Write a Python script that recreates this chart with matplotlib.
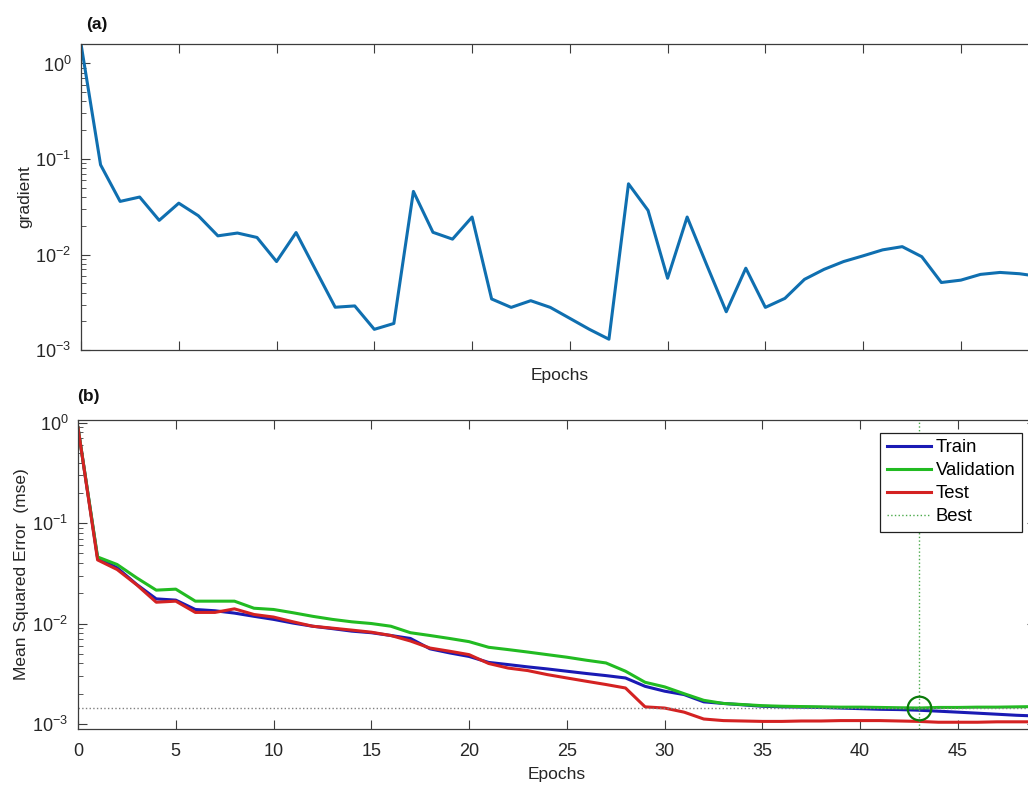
#!/usr/bin/env python3
"""Training record of a neural net: gradient (a) and performance (b) per epoch."""

import numpy as np
import matplotlib
matplotlib.use("Agg")
import matplotlib.pyplot as plt
from matplotlib.ticker import LogLocator, NullFormatter, LogFormatterSciNotation

plt.rcParams['font.family'] = ['Liberation Sans', 'DejaVu Sans']
plt.rcParams['mathtext.fontset'] = 'custom'
plt.rcParams['mathtext.rm'] = 'Liberation Sans'

# gradient per epoch, panel (a)
grad = [1.6, 0.087, 0.036, 0.040, 0.0228, 0.0345, 0.0255, 0.0157, 0.0168, 0.0151,
        0.00845, 0.0170, 0.0069, 0.00281, 0.0029, 0.00165, 0.0019, 0.0458, 0.0171, 0.0145,
        0.0247, 0.00343, 0.0028, 0.00329, 0.0028, 0.00215, 0.00165, 0.0013, 0.055, 0.029,
        0.00565, 0.0247, 0.0078, 0.00252, 0.0072, 0.0028, 0.00348, 0.0055, 0.0070, 0.00845,
        0.0097, 0.0112, 0.0121, 0.0095, 0.0051, 0.0054, 0.0062, 0.0065, 0.0063, 0.0059]

# mean squared error per epoch, panel (b)
train = [0.89, 0.045, 0.0359, 0.0245, 0.0176, 0.0171, 0.0138, 0.0134, 0.0127, 0.0118,
         0.0110, 0.0101, 0.0094, 0.0089, 0.0084, 0.0081, 0.0076, 0.0071, 0.0056, 0.0051,
         0.0047, 0.0041, 0.0039, 0.0037, 0.00353, 0.00335, 0.00318, 0.00303, 0.00287, 0.00237,
         0.00212, 0.00196, 0.00166, 0.0016, 0.00155, 0.0015, 0.00148, 0.00147, 0.00146, 0.00144,
         0.00142, 0.0014, 0.00139, 0.00137, 0.00134, 0.00131, 0.00128, 0.00125, 0.00122, 0.0012]
valid = [0.89, 0.046, 0.0387, 0.0285, 0.0215, 0.022, 0.0167, 0.0167, 0.0167, 0.0142,
         0.0138, 0.0128, 0.0118, 0.0110, 0.0104, 0.0100, 0.0094, 0.0081, 0.0076, 0.0071,
         0.0066, 0.0058, 0.0055, 0.0052, 0.0049, 0.00462, 0.00431, 0.00405, 0.00335, 0.0026,
         0.00234, 0.002, 0.00172, 0.0016, 0.00156, 0.00152, 0.0015, 0.00149, 0.00148, 0.00147,
         0.00147, 0.00146, 0.00145, 0.00144, 0.00146, 0.00146, 0.00147, 0.00147, 0.00148, 0.00149]
test = [0.89, 0.043, 0.0345, 0.0243, 0.0163, 0.0167, 0.0129, 0.0129, 0.0140, 0.0123,
        0.0116, 0.0104, 0.0094, 0.0090, 0.0086, 0.0082, 0.0076, 0.0067, 0.0057, 0.0053,
        0.0049, 0.0040, 0.0036, 0.0034, 0.0031, 0.00287, 0.00266, 0.00247, 0.00228, 0.00148,
        0.00144, 0.00131, 0.00112, 0.00108, 0.00107, 0.00106, 0.00106, 0.00107, 0.00107, 0.00108,
        0.00108, 0.00108, 0.00107, 0.00106, 0.00104, 0.00104, 0.00104, 0.00105, 0.00105, 0.00105]

best_epoch = 43
x_ticks = [0, 5, 10, 15, 20, 25, 30, 35, 40, 45]

SPINE = '#3c3c3c'
TEXT = '#262626'


def style_axes(ax, show_xlabels):
    ax.set_yscale('log')
    ax.set_xlim(0, 49)
    ax.set_xticks(x_ticks)
    if not show_xlabels:
        ax.set_xticklabels([])
    ax.yaxis.set_major_locator(LogLocator(base=10, numticks=10))
    ax.yaxis.set_minor_locator(LogLocator(base=10, subs=np.arange(2, 10), numticks=20))
    ax.yaxis.set_minor_formatter(NullFormatter())
    ax.yaxis.set_major_formatter(LogFormatterSciNotation())
    ax.tick_params(which='both', direction='in', top=True, right=True,
                   colors=SPINE, labelcolor=TEXT, labelsize=13)
    ax.tick_params(which='major', length=6.5, width=0.8)
    ax.tick_params(which='minor', length=3.5, width=0.6)
    ax.tick_params(axis='y', which='major', pad=7)
    ax.tick_params(axis='x', which='major', pad=10)
    for s in ax.spines.values():
        s.set_color(SPINE)
        s.set_linewidth(0.9)
    ax.set_xlabel('Epochs', fontsize=12.5, color=TEXT, labelpad=3)


fig = plt.figure(figsize=(10.28, 7.85), dpi=100)

# (a) gradient
ax1 = fig.add_axes([0.0788, 0.554, 0.932, 0.390])
epochs = np.arange(len(grad))
ax1.plot(epochs, grad, color='#0f6fb0', lw=2.2)
style_axes(ax1, show_xlabels=False)
ax1.set_ylim(1e-3, 1.6)
ax1.set_ylabel('gradient', fontsize=12.5, color=TEXT, labelpad=2)

# (b) performance
ax2 = fig.add_axes([0.0759, 0.0713, 0.932, 0.394])
ep = np.arange(len(train))
ax2.plot(ep, train, color='#1a1ab4', lw=2.2, label='Train')
ax2.plot(ep, valid, color='#22bb22', lw=2.2, label='Validation')
ax2.plot(ep, test, color='#d42222', lw=2.2, label='Test')
best_val = valid[best_epoch]
ax2.axvline(best_epoch, color='#4caa4c', lw=1.0, ls=':', label='Best')
ax2.axhline(best_val, color='#808080', lw=1.0, ls=':')
ax2.plot([best_epoch], [best_val], 'o', ms=17, mfc='none', mec='#0a7a0a', mew=1.6)
style_axes(ax2, show_xlabels=True)
ax2.set_ylim(0.00089, 1.07)
ax2.set_ylabel('Mean Squared Error  (mse)', fontsize=12.5, color=TEXT, labelpad=2)
ax2.xaxis.labelpad = 5

leg = ax2.legend(loc='upper right', bbox_to_anchor=(1022 / 1028, 1 - 433 / 785),
                 bbox_transform=fig.transFigure, borderaxespad=0, fontsize=13.3,
                 fancybox=False, framealpha=1, edgecolor='#202020', handlelength=2.4,
                 handletextpad=0.25, labelspacing=0.32, borderpad=0.35)
leg.get_frame().set_linewidth(0.9)

fig.text(86 / 1028, 1 - 25 / 785, '(a)', fontsize=12.5, fontweight='bold', va='center', color='#111')
fig.text(77 / 1028, 1 - 397 / 785, '(b)', fontsize=12.5, fontweight='bold', va='center', color='#111')

fig.savefig('out.png', dpi=100)
